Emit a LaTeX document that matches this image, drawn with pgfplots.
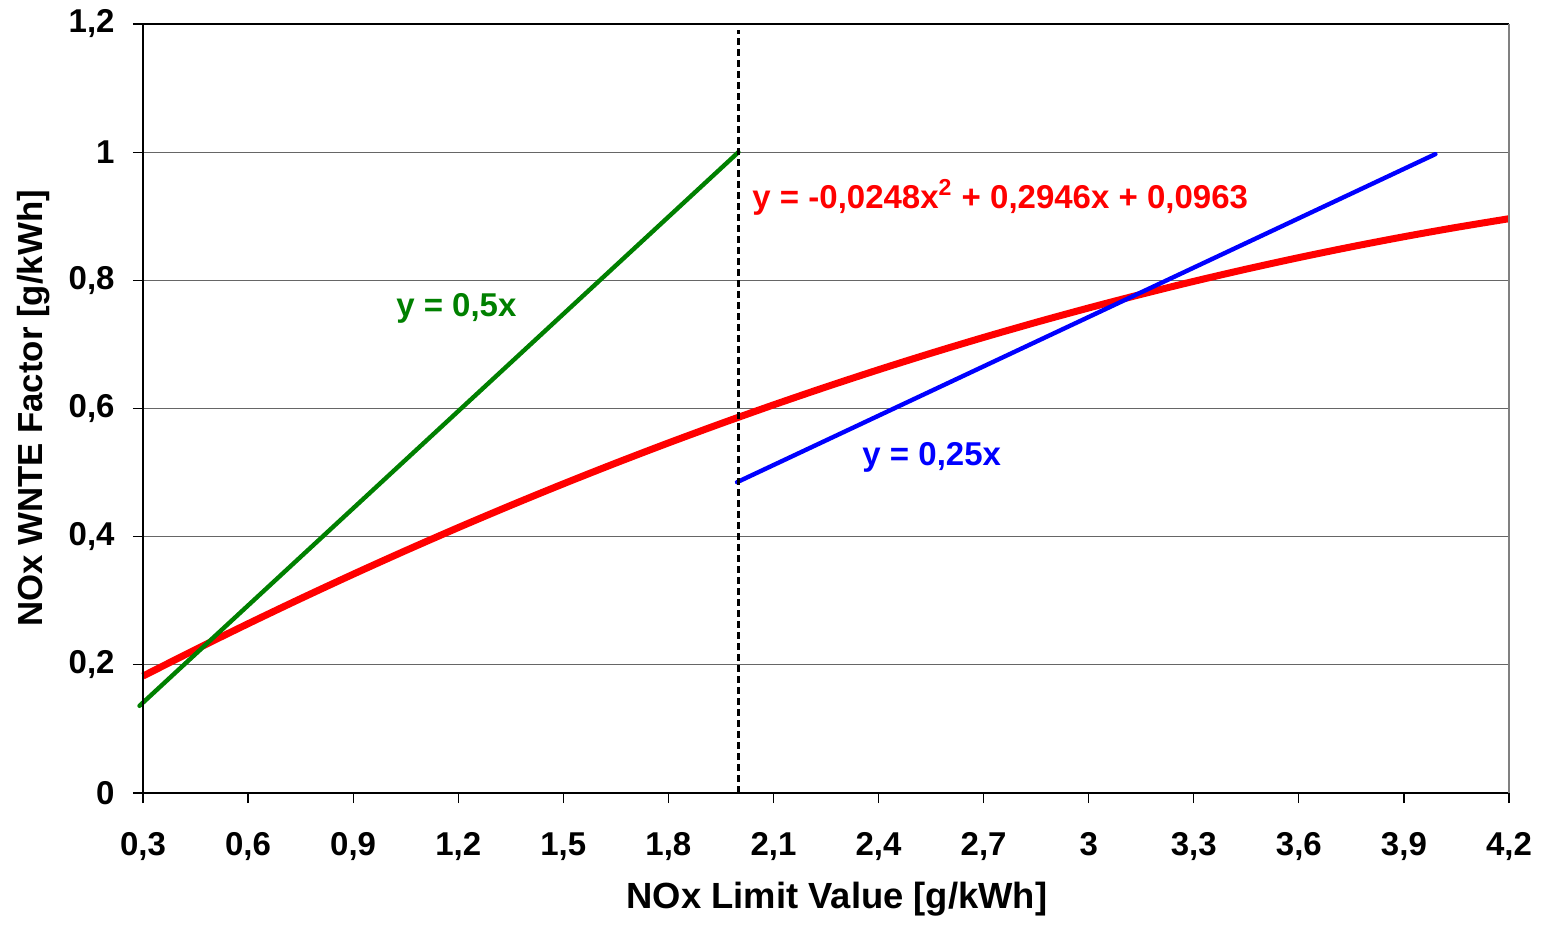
\documentclass[border=0pt]{standalone}
\usepackage{fontspec}
\setmainfont{Liberation Sans}
\usepackage{pgfplots}
\pgfplotsset{compat=1.18}
\definecolor{xlgreen}{RGB}{0,128,0}
\begin{document}
\begin{tikzpicture}
\begin{axis}[
  scale only axis,
  width=683bp, height=384.5bp,
  xmin=0.3, xmax=4.2, ymin=0, ymax=1.2,
  clip=false,
  xtick={0.3,0.6,0.9,1.2,1.5,1.8,2.1,2.4,2.7,3,3.3,3.6,3.9,4.2},
  ytick={0,0.2,0.4,0.6,0.8,1,1.2},
  tick pos=left,
  tick align=outside,
  major tick length=5bp,
  tick style={black, line width=0.6bp},
  ymajorgrids,
  grid style={black!60, line width=0.5bp},
  axis line style={draw=none},
  /pgf/number format/.cd, use comma, fixed, precision=1, assume math mode=true,
  /pgfplots/.cd,
  ticklabel style={font=\bfseries\fontsize{16.5bp}{19.8bp}\selectfont},
  xticklabel style={inner sep=0pt, anchor=north, yshift=-14.5bp},
  yticklabel style={inner sep=0pt, anchor=east, xshift=-9bp},
  xlabel={NOx Limit Value [g/kWh]},
  ylabel={NOx WNTE Factor [g/kWh]},
  xlabel style={font=\bfseries\fontsize{18.2bp}{21.8bp}\selectfont, at={(axis description cs:0.508,0)}, anchor=base, yshift=-57.5bp},
  ylabel style={font=\bfseries\fontsize{17.4bp}{20.9bp}\selectfont, at={(axis description cs:0,0.5)}, anchor=base, yshift=50bp},
  after end axis/.code={
    \draw[black, line width=0.7bp] (rel axis cs:1,1) -- (rel axis cs:0,1) -- (rel axis cs:0,0) -- (rel axis cs:1,0);
    \draw[black!50, line width=1bp] (rel axis cs:1,0) -- (rel axis cs:1,1);
  },
]
% red quadratic fit
\addplot[red, line width=3.5bp, line join=round, smooth] coordinates {
 (0.3,0.18245) (0.45,0.22385) (0.6,0.26413) (0.75,0.3033) (0.9,0.34135)
 (1.05,0.37829) (1.2,0.41411) (1.35,0.44881) (1.5,0.4824) (1.65,0.51487)
 (1.8,0.54623) (1.95,0.57647) (2.1,0.60559) (2.25,0.6336) (2.4,0.66049)
 (2.55,0.68627) (2.7,0.71093) (2.85,0.73447) (3.0,0.7569) (3.15,0.77821)
 (3.3,0.79841) (3.45,0.81749) (3.6,0.83545) (3.75,0.8523) (3.9,0.86803)
 (4.05,0.88265) (4.2,0.89615)
};
% green line
\addplot[xlgreen, line width=2.2bp, line cap=round] coordinates {(0.29,0.136) (2.0,1.0)};
% blue line
\addplot[blue, line width=2.2bp, line cap=round] coordinates {(1.996,0.485) (3.99,0.997)};
% dashed vertical
\addplot[black, line width=1.5bp, dash pattern=on 3.5bp off 2bp] coordinates {(2.0,0) (2.0,1.19)};
\node[anchor=base west, inner sep=0pt, text=xlgreen, font=\bfseries\fontsize{16.5bp}{19.8bp}\selectfont] at (axis cs:1.022,0.744) {y = 0,5x};
\node[anchor=base west, inner sep=0pt, text=red, font=\bfseries\fontsize{16.5bp}{19.8bp}\selectfont] at (axis cs:2.039,0.9126) {y = -0,0248x\textsuperscript{2} + 0,2946x + 0,0963};
\node[anchor=base west, inner sep=0pt, text=blue, font=\bfseries\fontsize{16.5bp}{19.8bp}\selectfont] at (axis cs:2.353,0.5117) {y = 0,25x};
\end{axis}
\pgfresetboundingbox
\path[use as bounding box] ([shift={(-71.5bp,-66bp)}]current axis.south west) rectangle ([shift={(16bp,12bp)}]current axis.north east);
\end{tikzpicture}
\end{document}
